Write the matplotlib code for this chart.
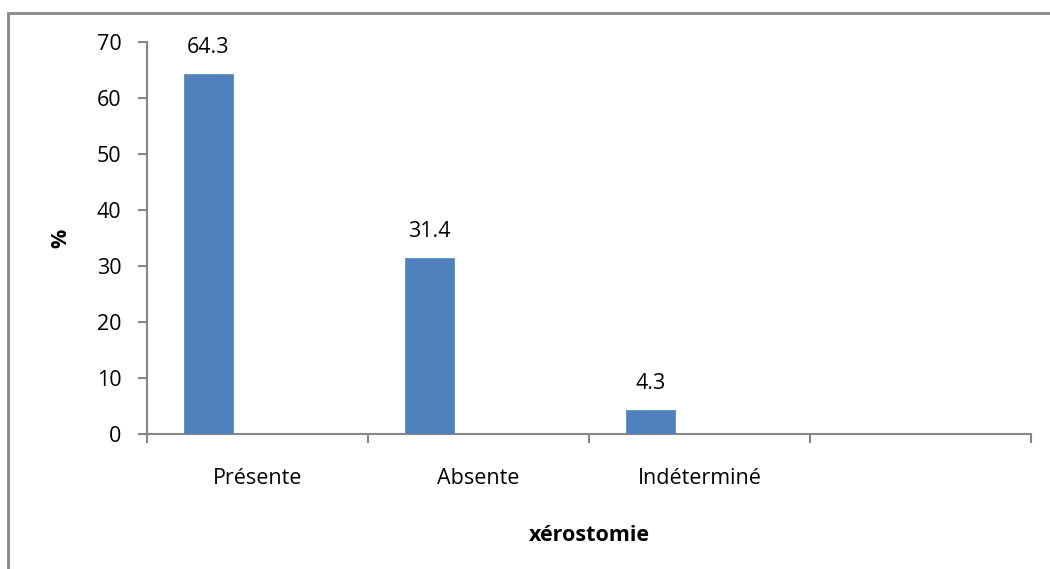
import matplotlib.pyplot as plt
from matplotlib.patches import Rectangle

# xérostomie distribution (%)
categories = ["Présente", "Absente", "Indéterminé", ""]
values = [64.3, 31.4, 4.3]
labels = ["64.3", "31.4", "4.3"]

plt.rcParams['font.family'] = ['Open Sans', 'DejaVu Sans']

fig = plt.figure(figsize=(10.5, 5.69), dpi=100)
ax = fig.add_axes([0.14, 0.2373, 0.8419, 0.6889])

# first series of a three-series cluster, gap width 150 %
bw = 1 / 4.5
xs = [i - bw for i in range(len(values))]
bars = ax.bar(xs, values, width=bw, color='#4F81BD', edgecolor='#5B8CC6', linewidth=0.6, zorder=3)
for b, lab in zip(bars, labels):
    ax.annotate(lab, (b.get_x() + b.get_width() / 2, b.get_height()),
                xytext=(0, 19), textcoords='offset points',
                ha='center', va='center', fontsize=15.5, color='black')

ax.set_xlim(-0.5, len(categories) - 0.5)
ax.set_ylim(0, 70)
ax.set_yticks(range(0, 71, 10))
ax.set_xticks([i + 0.5 for i in range(-1, len(categories))], minor=False)
ax.set_xticklabels([])
ax.set_xticks(range(len(categories)), minor=True)
ax.set_xticklabels(categories, minor=True)
ax.tick_params(axis='x', which='minor', length=0, pad=24.5, labelsize=15.5)
ax.tick_params(axis='x', which='major', length=6.5, width=1.5, color='#868686', direction='out')
ax.tick_params(axis='y', length=6.5, width=1.5, color='#868686', labelsize=15.5, pad=12)

for s in ['top', 'right']:
    ax.spines[s].set_visible(False)
for s in ['left', 'bottom']:
    ax.spines[s].set_color('#868686')
    ax.spines[s].set_linewidth(1.5)

ax.set_xlabel("xérostomie", fontsize=15.5, fontweight='bold', labelpad=26)
ax.set_ylabel("%", fontsize=15.5, fontweight='bold', labelpad=18)

# chart area border
fig.patches.append(Rectangle((8 / 1050, -0.01), 1.02, 1 - 13 / 569 + 0.01,
                             transform=fig.transFigure, fill=False,
                             edgecolor='#888888', linewidth=2))

fig.savefig("out.png", dpi=100)
